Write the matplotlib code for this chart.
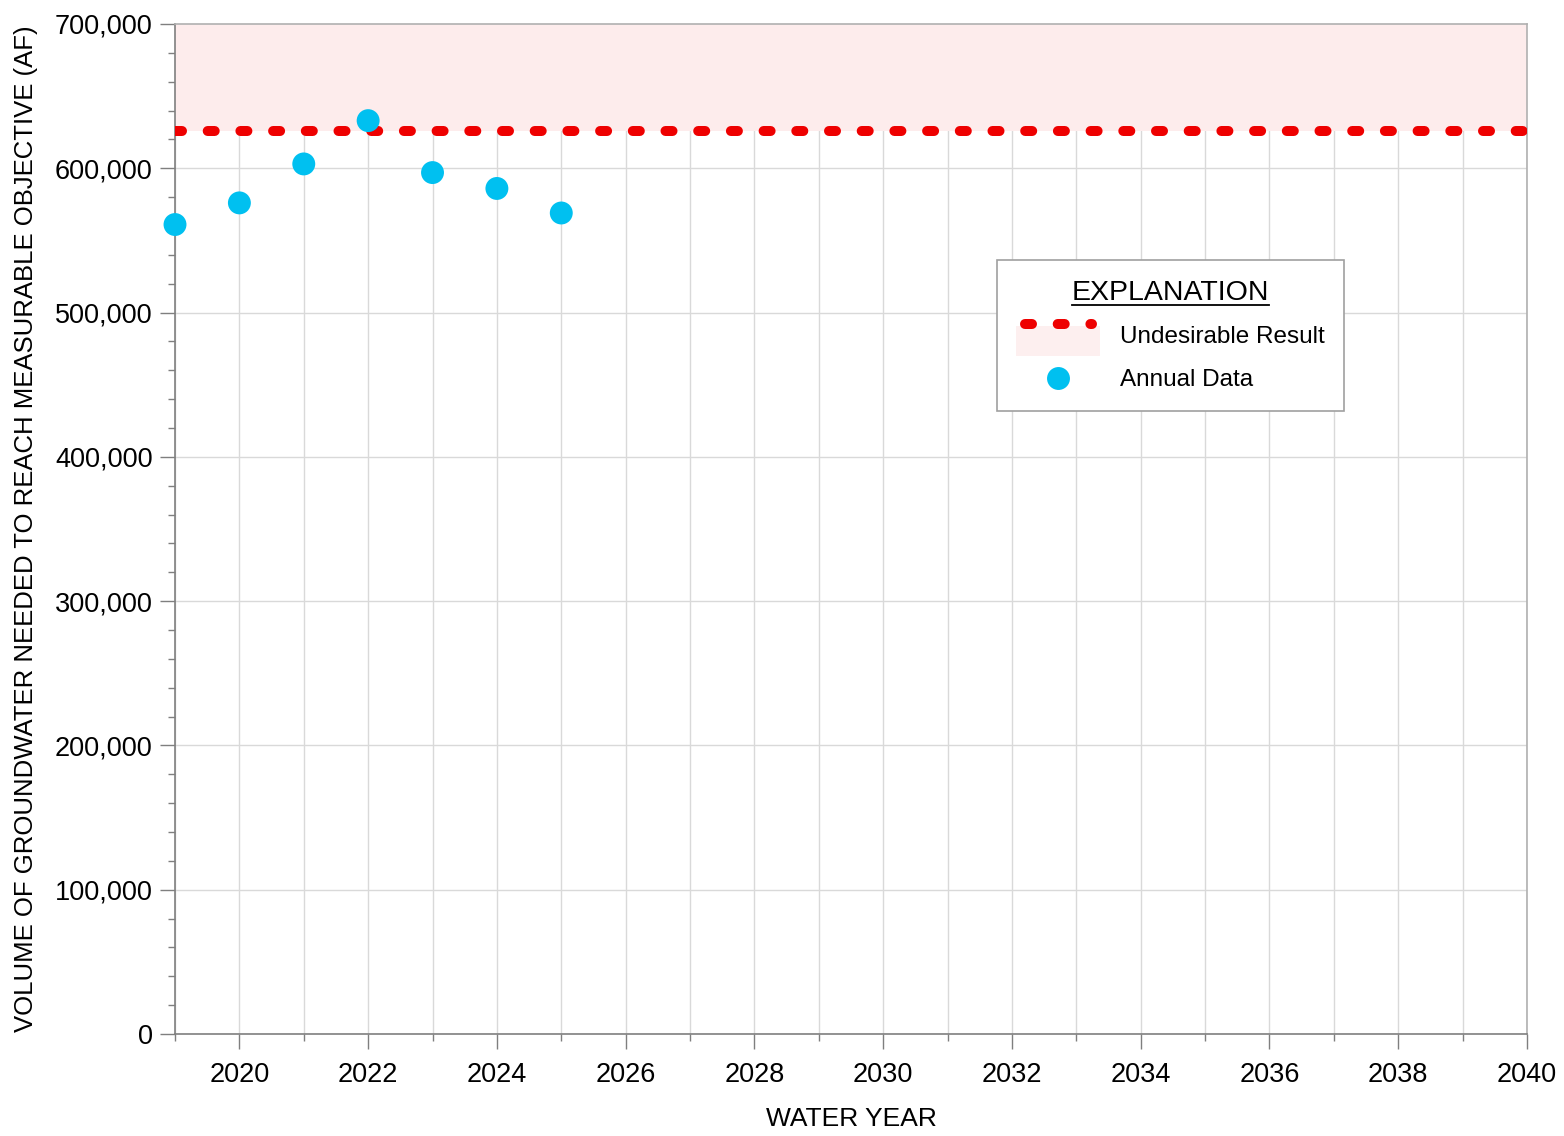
import matplotlib
matplotlib.use("Agg")
import matplotlib.pyplot as plt
from matplotlib.ticker import MultipleLocator, FuncFormatter
from matplotlib.patches import Rectangle, Patch
from matplotlib.lines import Line2D
from matplotlib.legend_handler import HandlerBase

# Annual volume needed to reach the measurable objective (acre-feet)
years = [2019, 2020, 2021, 2022, 2023, 2024, 2025]
volume_af = [561000, 576000, 603000, 633000, 597000, 586000, 569000]

# Undesirable result threshold and chart extents
threshold_af = 626000
y_max = 700000
x_range = (2019, 2040)

FONT = ["Liberation Sans", "DejaVu Sans"]
plt.rcParams["font.family"] = FONT

RED = "#ee0000"
BLUE = "#00c0f0"
PINK = "#fdecec"
GRID = "#d9d9d9"
AXIS = "#7f7f7f"
DOTTED = (0, (0.7, 2.57))
LINE_W = 7.2
MARKER = 16.5

fig = plt.figure(figsize=(15.64, 11.36), dpi=100)
ax = fig.add_axes([0.1119, 0.0898, 0.8644, 0.8891])

ax.set_xlim(*x_range)
ax.set_ylim(0, y_max)

# Undesirable-result zone above the threshold
ax.axhspan(threshold_af, y_max, color=PINK, zorder=1, lw=0)
ax.axhline(threshold_af, color=RED, lw=LINE_W, ls=DOTTED,
           dash_capstyle="round", zorder=3)

ax.scatter(years, volume_af, s=MARKER ** 2, color=BLUE, zorder=4,
           edgecolors="none", clip_on=False)

# Ticks and grid
ax.xaxis.set_major_locator(MultipleLocator(2))
ax.xaxis.set_minor_locator(MultipleLocator(1))
ax.yaxis.set_major_locator(MultipleLocator(100000))
ax.yaxis.set_minor_locator(MultipleLocator(20000))
ax.yaxis.set_major_formatter(FuncFormatter(lambda v, p: f"{int(v):,}"))
ax.xaxis.set_major_formatter(FuncFormatter(
    lambda v, p: "" if int(round(v)) == 2019 else f"{int(round(v))}"))

ax.grid(which="major", axis="y", color=GRID, lw=1.0, zorder=0)
ax.grid(which="both", axis="x", color=GRID, lw=1.0, zorder=0)
ax.set_axisbelow(True)

ax.tick_params(which="major", length=11, width=1, color=AXIS,
               labelsize=19.5, pad=5)
ax.tick_params(which="minor", length=5, width=1, color=AXIS)
ax.tick_params(axis="x", which="major", pad=9)
for s in ax.spines.values():
    s.set_color(AXIS)
    s.set_linewidth(1.2)
ax.spines["top"].set_color("#b0b0b0")
ax.spines["right"].set_color("#b0b0b0")

ax.set_xlabel("WATER YEAR", fontsize=19, labelpad=14)
ax.set_ylabel("VOLUME OF GROUNDWATER NEEDED TO REACH MEASURABLE OBJECTIVE (AF)",
              fontsize=18.5, labelpad=2)
ax.yaxis.set_label_coords(-0.1015, 0.5)


class ZoneHandler(HandlerBase):
    """Pink zone with the dotted threshold line along its top edge."""

    def create_artists(self, legend, orig_handle, xdescent, ydescent,
                       width, height, fontsize, trans):
        top = height * 1.15
        rect = Rectangle((-xdescent, -ydescent - height * 0.75),
                         width, top + height * 0.6,
                         facecolor=PINK, edgecolor="none", alpha=0.8,
                         transform=trans)
        line = Line2D([-xdescent + 6, -xdescent + width - 6], [top, top],
                      color=RED, lw=LINE_W, ls=DOTTED,
                      dash_capstyle="round", transform=trans)
        return [rect, line]


zone_handle = Patch(facecolor=PINK)
dot_handle = Line2D([], [], ls="none", marker="o", markersize=MARKER,
                    color=BLUE, markeredgewidth=0)

leg = ax.legend([zone_handle, dot_handle], ["Undesirable Result", "Annual Data"],
                handler_map={Patch: ZoneHandler()},
                title="EXPLANATION", title_fontsize=20.5, fontsize=17.5,
                loc="upper left", bbox_to_anchor=(0.608, 0.766),
                borderaxespad=0,
                frameon=True, fancybox=False, edgecolor="#a0a0a0",
                framealpha=1, handlelength=3.45, handletextpad=0.8,
                labelspacing=0.85, borderpad=0.8)
leg.get_frame().set_linewidth(1.2)
leg.set_zorder(10)

# Underline the legend title
fig.canvas.draw()
tb = leg.get_title().get_window_extent().transformed(fig.transFigure.inverted())
fig.add_artist(Line2D([tb.x0, tb.x1], [tb.y0 + 0.001, tb.y0 + 0.001],
                      color="black", lw=1.3, transform=fig.transFigure,
                      zorder=20))

fig.savefig("out.png", dpi=100, facecolor="white")
